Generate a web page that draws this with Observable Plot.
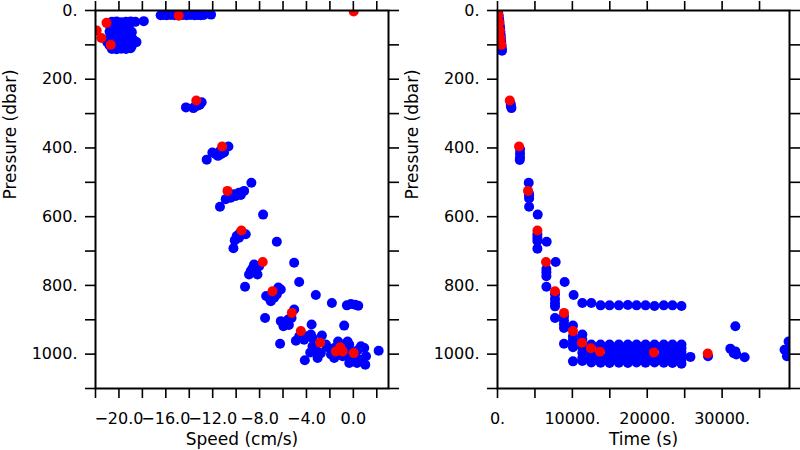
<!DOCTYPE html>
<html>
<head>
<meta charset="utf-8">
<script src="https://cdn.jsdelivr.net/npm/d3@7"></script>
<script src="https://cdn.jsdelivr.net/npm/@observablehq/plot@0.6"></script>
<style>
  html, body { margin: 0; padding: 0; background: #fff; }
  #wrap { display: flex; width: 800px; height: 450px; overflow: hidden; }
  #wrap svg { display: block; flex: none; }
</style>
</head>
<body>
<div id="wrap"></div>
<script>
// ---------- tick definitions ----------
const pressureTicks = [0, 100, 200, 300, 400, 500, 600, 700, 800, 900, 1000, 1100];
const pressureLabels = [0, 200, 400, 600, 800, 1000];
const speedTicks = [-22, -20, -18, -16, -14, -12, -10, -8, -6, -4, -2, 0, 2];
const speedLabels = [-20, -16, -12, -8, -4, 0];
const timeTicks = [0, 5000, 10000, 15000, 20000, 25000, 30000, 35000];
const timeLabels = [0, 10000, 20000, 30000];

// ---------- left panel: [speed (cm/s), pressure (dbar)] ----------
const speedRed = [
  [-21.9, 58], [-21.06, 36], [-21.5, 80], [-20.7, 100], [-14.9, 15], [0.03, 3],
  [-13.4, 262], [-11.2, 396], [-10.74, 525], [-9.55, 640], [-7.73, 732], [-6.9, 817],
  [-5.25, 880], [-4.48, 933], [-2.83, 967], [-1.49, 992], [-1.12, 980], [-0.91, 992], [0.03, 997]
];
const speedBlueSurface = [
  [-20.6, 33], [-20.2, 32], [-19.8, 34], [-19.4, 33], [-19.0, 32], [-18.6, 33], [-17.88, 31],
  [-20.8, 42], [-20.4, 43], [-20.0, 41], [-19.6, 43], [-19.2, 42],
  [-20.7, 52], [-20.3, 51], [-19.9, 53], [-19.5, 52], [-19.1, 54],
  [-20.8, 62], [-20.4, 63], [-20.0, 61], [-19.6, 64], [-19.2, 62], [-18.9, 63],
  [-20.7, 72], [-20.3, 71], [-19.9, 73], [-19.5, 72], [-19.1, 74],
  [-20.8, 82], [-20.4, 81], [-20.0, 83], [-19.6, 82], [-19.2, 81], [-18.8, 84],
  [-21.0, 92], [-20.6, 91], [-20.2, 93], [-19.8, 92], [-19.4, 91], [-18.5, 92],
  [-20.8, 102], [-20.4, 103], [-20.0, 101], [-19.6, 104], [-19.2, 102], [-18.9, 103],
  [-20.6, 112], [-20.2, 113], [-19.8, 111], [-19.4, 112], [-19.0, 110],
  [-16.44, 14], [-16.19, 13], [-15.93, 14], [-15.59, 13], [-15.25, 14], [-14.56, 13],
  [-14.22, 14], [-13.88, 13], [-13.54, 14], [-13.28, 13], [-13.03, 14], [-12.77, 13], [-12.14, 12]
];
const speedBlueDescent = [
  [-14.28, 282], [-13.65, 284], [-13.3, 277], [-12.94, 267], [-13.1, 274], [-13.5, 279],
  [-10.66, 396], [-11.74, 418], [-12.03, 413], [-11.3, 418], [-11.55, 423], [-12.51, 434], [-11.03, 413], [-11.4, 410],
  [-9.32, 525], [-8.7, 501], [-10.03, 540], [-10.46, 545], [-10.89, 549], [-11.38, 571], [-9.75, 530], [-7.7, 594], [-10.2, 535], [-9.6, 537],
  [-9.18, 651], [-9.95, 656], [-9.75, 661], [-10.12, 669], [-10.23, 692], [-6.53, 673], [-9.46, 651], [-9.7, 648],
  [-8.32, 753], [-8.75, 758], [-8.9, 768], [-8.04, 744], [-8.18, 768], [-9.24, 804], [-5.05, 734], [-8.47, 739], [-8.6, 750],
  [-6.19, 812], [-7.19, 836], [-6.76, 836], [-7.04, 846], [-6.53, 826], [-7.44, 831], [-7.53, 895], [-4.62, 790],
  [-3.2, 828], [-1.83, 851], [-0.55, 858], [-0.21, 854], [0.14, 856], [0.42, 859], [-6.4, 806],
  [-6.19, 904], [-5.76, 909], [-5.96, 919], [-5.56, 899], [-5.05, 870], [-5.27, 895], [-6.25, 970], [-3.56, 914], [-0.78, 917], [-5.5, 915]
];
const speedBlueBottom = [
  [-4.9, 961], [-4.62, 948], [-4.2, 958], [-3.91, 948], [-3.62, 943], [-3.48, 953], [-3.68, 995], [-4.14, 1018],
  [-2.68, 946], [-3.05, 1011], [-2.77, 997], [-2.34, 972], [-2.26, 979], [-1.91, 1001], [-1.63, 982], [-1.3, 963],
  [-0.78, 977], [-0.49, 1001], [-0.35, 1026], [-0.06, 1016], [0.22, 1011], [0.37, 989], [-0.49, 963], [0.65, 977],
  [0.93, 982], [1.08, 1006], [1.02, 1031], [2.16, 990], [-1.06, 1001], [-1.35, 992], [-0.21, 992], [0.5, 1016],
  [-3.2, 987], [-3.48, 977], [-1.63, 1011], [0.08, 997], [-0.35, 972], [-0.91, 1006], [0.31, 1026]
];

// ---------- right panel: [time (s), pressure (dbar)] ----------
const timeRed = [
  [50, 3], [120, 15], [230, 36], [320, 58], [420, 80], [520, 100], [1640, 262], [2880, 396],
  [4080, 525], [5330, 640], [6480, 732], [7680, 817], [8880, 880], [10080, 933], [11280, 967],
  [12480, 983], [13680, 993], [20880, 995], [28080, 998]
];
const timeBlueDescent = [
  [80, 5], [150, 14], [210, 24], [260, 33], [300, 43], [350, 52], [390, 62], [430, 72], [470, 82],
  [500, 92], [540, 102], [570, 110], [600, 117],
  [1770, 272], [1860, 284], [1780, 278],
  [3010, 404], [3010, 416], [3010, 428], [2970, 435],
  [4170, 501], [4220, 538], [4220, 547], [4220, 571], [4200, 533], [5370, 594],
  [5330, 651], [5330, 661], [5330, 671], [5330, 693], [6570, 673],
  [6530, 752], [6530, 762], [6530, 773], [6530, 804], [7770, 732],
  [7680, 826], [7680, 840], [7680, 852], [7680, 861], [7680, 895], [8970, 790],
  [8880, 890], [8880, 902], [8880, 913], [8880, 924], [8880, 970], [10170, 828],
  [10080, 917], [10080, 948], [10080, 958], [10080, 970], [10080, 980], [10080, 1021]
];
const timeBlueUpperBand = [
  [11330, 851], [12530, 851], [13770, 858], [14970, 858], [16210, 858], [17410, 857],
  [18570, 858], [19770, 858], [20970, 860], [22210, 858], [23370, 858], [24570, 860]
];
const timeBlueLowerBand = [
  [11330, 943], [11330, 958], [11330, 982], [11330, 996], [11330, 1011], [11330, 1020],
  [12530, 972], [12530, 995], [12530, 1006], [12530, 1016], [12530, 1024],
  [13770, 972], [13770, 983], [13770, 1006], [13770, 1016], [13770, 1025],
  [14970, 972], [14970, 982], [14970, 993], [14970, 1004], [14970, 1015], [14970, 1026],
  [16210, 972], [16210, 983], [16210, 994], [16210, 1005], [16210, 1016], [16210, 1025],
  [17410, 972], [17410, 982], [17410, 993], [17410, 1005], [17410, 1015], [17410, 1026],
  [18570, 972], [18570, 983], [18570, 994], [18570, 1005], [18570, 1016], [18570, 1024],
  [19770, 972], [19770, 982], [19770, 993], [19770, 1005], [19770, 1016], [19770, 1025],
  [20970, 972], [20970, 983], [20970, 1006], [20970, 1016], [20970, 1024],
  [22210, 972], [22210, 982], [22210, 993], [22210, 1004], [22210, 1015], [22210, 1025],
  [23370, 972], [23370, 983], [23370, 994], [23370, 1005], [23370, 1016], [23370, 1026],
  [24570, 972], [24570, 983], [24570, 994], [24570, 1005], [24570, 1016], [24570, 1028],
  [25770, 1008], [28120, 1006], [31100, 984], [31770, 919], [31540, 997], [31900, 1001],
  [31770, 992], [33010, 1009], [38340, 987], [38880, 963], [38660, 1006], [39050, 975]
];

// ---------- formatting ----------
const fmtPressure = d => pressureLabels.includes(d) ? d + "." : "";
const fmtSpeed = d => speedLabels.includes(d) ? (d < 0 ? "\u2212" : "") + Math.abs(d).toFixed(1) : "";
const fmtTime = d => timeLabels.includes(d) ? d + "." : "";
const blank = () => "";

const common = {
  height: 450,
  marginTop: 10,
  marginBottom: 62,
  style: { fontFamily: "DejaVu Sans", fontSize: "16px", color: "black", background: "white" }
};
const R = 5;
const BLUE = "#0000ff", RED = "#ff0000";

function panel({width, marginLeft, marginRight, domainX, ticksX, fmtX, blue, red, xTitle, yTitleDx}) {
  return Plot.plot({
    ...common,
    width, marginLeft, marginRight,
    x: { domain: domainX },
    y: { domain: [0, 1100], reverse: true },
    marks: [
      ...blue.map(arr => Plot.dot(arr, { x: d => d[0], y: d => d[1], r: R, fill: BLUE, clip: true })),
      Plot.dot(red, { x: d => d[0], y: d => d[1], r: R, fill: RED, clip: true }),
      Plot.frame({ stroke: "black", strokeWidth: 2 }),
      Plot.axisX({ anchor: "bottom", ticks: ticksX, tickSize: 10, tickPadding: 14, tickFormat: fmtX, label: null, strokeWidth: 1.6 }),
      Plot.axisX({ anchor: "top", ticks: ticksX, tickSize: 10, tickFormat: blank, label: null, strokeWidth: 1.6 }),
      Plot.axisY({ anchor: "left", ticks: pressureTicks, tickSize: 10, tickPadding: 8, tickFormat: fmtPressure, label: null, strokeWidth: 1.6 }),
      Plot.axisY({ anchor: "right", ticks: pressureTicks, tickSize: 10, tickFormat: blank, label: null, strokeWidth: 1.6 }),
      Plot.text([xTitle], { text: d => d, frameAnchor: "bottom", dy: 56, fontSize: 17 }),
      Plot.text(["Pressure (dbar)"], { text: d => d, frameAnchor: "left", rotate: -90, dx: yTitleDx, fontSize: 17 })
    ]
  });
}

const left = panel({
  width: 400, marginLeft: 95, marginRight: 12,
  domainX: [-22, 3], ticksX: speedTicks, fmtX: fmtSpeed,
  blue: [speedBlueSurface, speedBlueDescent, speedBlueBottom], red: speedRed,
  xTitle: "Speed (cm/s)", yTitleDx: -85
});
const right = panel({
  width: 400, marginLeft: 97, marginRight: 11,
  domainX: [0, 39000], ticksX: timeTicks, fmtX: fmtTime,
  blue: [timeBlueDescent, timeBlueUpperBand, timeBlueLowerBand], red: timeRed,
  xTitle: "Time (s)", yTitleDx: -85
});
const wrap = document.getElementById("wrap");
wrap.appendChild(left);
wrap.appendChild(right);
</script>
</body>
</html>
